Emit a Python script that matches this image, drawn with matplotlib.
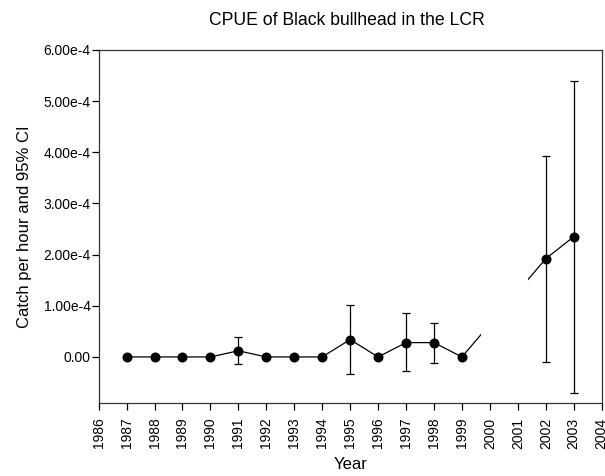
# CPUE of black bullhead, LCR, with 95% CI
import numpy as np
import matplotlib
matplotlib.use("Agg")
import matplotlib.pyplot as plt

plt.rcParams['font.family'] = ['Liberation Sans', 'DejaVu Sans']

years = [1987, 1988, 1989, 1990, 1991, 1992, 1993, 1994, 1995, 1996, 1997, 1998, 1999, 2002, 2003]
cpue = [0, 0, 0, 0, 1.2e-5, 0, 0, 0, 3.4e-5, 0, 2.8e-5, 2.8e-5, 0, 1.92e-4, 2.35e-4]
ci_low = [0, 0, 0, 0, -1.3e-5, 0, 0, 0, -3.3e-5, 0, -2.8e-5, -1.1e-5, 0, -0.9e-5, -7.1e-5]
ci_high = [0, 0, 0, 0, 3.8e-5, 0, 0, 0, 1.01e-4, 0, 8.5e-5, 6.6e-5, 0, 3.93e-4, 5.40e-4]

# the connecting line is broken between these years in the original
line_gap = (1999.67, 2001.38)

xticks = list(range(1986, 2005))
yticks = [0, 1e-4, 2e-4, 3e-4, 4e-4, 5e-4, 6e-4]
ylabels = ['0.00', '1.00e-4', '2.00e-4', '3.00e-4', '4.00e-4', '5.00e-4', '6.00e-4']

fig = plt.figure(figsize=(6.05, 4.76), dpi=100)
ax = fig.add_axes([0.163, 0.1534, 0.8315, 0.7416])

yrs = np.array(years)
val = np.array(cpue)
err = [val - np.array(ci_low), np.array(ci_high) - val]
has_ci = np.array(ci_high) != np.array(ci_low)

ax.plot(yrs, val, color='black', lw=0.9, zorder=2)
ax.axvspan(line_gap[0], line_gap[1], color='white', lw=0, zorder=2.1)
ax.errorbar(yrs[has_ci], val[has_ci], yerr=[err[0][has_ci], err[1][has_ci]],
            fmt='none', ecolor='black', elinewidth=0.9, capsize=3, capthick=0.9, zorder=3)
ax.plot(yrs, val, 'o', color='black', ms=6.2, zorder=4)

ax.set_xlim(1986, 2004)
ax.set_ylim(-9e-5, 6e-4)
ax.set_xticks(xticks)
ax.set_xticklabels([str(y) for y in xticks], rotation=90)
ax.set_yticks(yticks)
ax.set_yticklabels(ylabels)
ax.tick_params(direction='out', length=5, width=0.9, labelsize=10, colors='black')
ax.tick_params(axis='x', pad=5.5)
ax.tick_params(axis='y', pad=0.8)
for s in ax.spines.values():
    s.set_linewidth(0.9)
    s.set_color('#333333')

ax.set_xlabel('Year', fontsize=12, labelpad=6)
ax.set_ylabel('Catch per hour and 95% CI', fontsize=12, labelpad=8)
fig.text(0.573, 0.956, 'CPUE of Black bullhead in the LCR', fontsize=12.7, ha='center', va='center')

fig.savefig('out.png', dpi=100)
